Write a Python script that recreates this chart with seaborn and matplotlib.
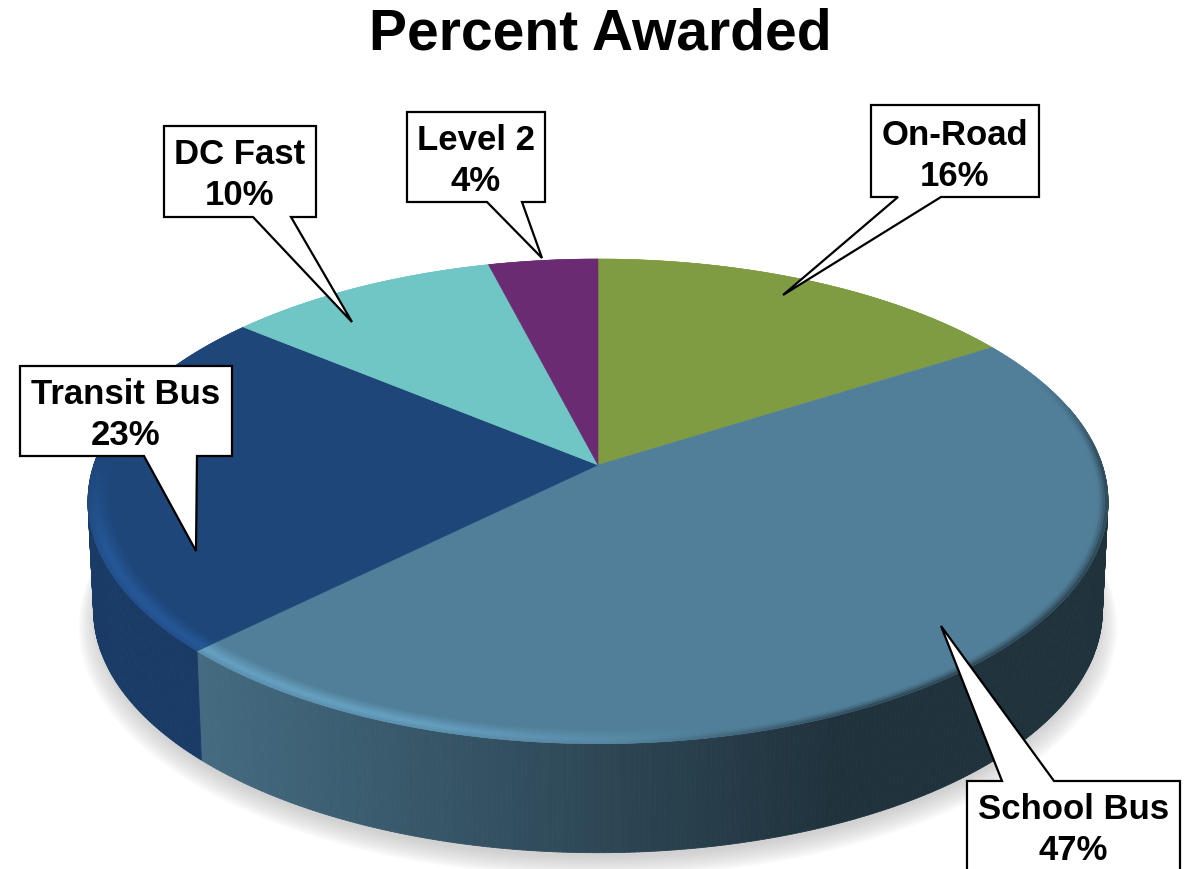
import numpy as np
import seaborn as sns
import matplotlib
matplotlib.use("Agg")
import matplotlib.pyplot as plt
from matplotlib.collections import PolyCollection

sns.set_theme(style="white")
plt.rcParams["font.family"] = ["Liberation Sans", "DejaVu Sans"]

# data, clockwise from 12 o'clock
categories = ["On-Road", "School Bus", "Transit Bus", "DC Fast", "Level 2"]
percent = [16, 46.6, 23.4, 10, 4]
percent_labels = ["16%", "47%", "23%", "10%", "4%"]
slice_colors = ["#7F9C42", "#517F99", "#1E4679", "#70C5C5", "#6B2B72"]

# callouts: box (left, top, right, bottom), tail base x left/right, tail tip
boxes = {
    "On-Road": (871, 105, 1039, 197, 898, 941, 783, 295),
    "School Bus": (967, 781, 1180, 900, 1002, 1054, 941, 626),
    "Transit Bus": (20, 366, 232, 456, 144, 197, 196, 551),
    "DC Fast": (164, 126, 316, 217, 253, 291, 352, 322),
    "Level 2": (407, 112, 545, 202, 487, 522, 542, 258),
}
text_y = {"On-Road": 156, "School Bus": 830, "Transit Bus": 415, "DC Fast": 175, "Level 2": 161}

# fake perspective of the disc, in pixels
CX, CY = 598, 465
K = 0.15
A = 206 * (1 + K)
R = 510 * np.sqrt(1 - K ** 2)
DEPTH = 109


def project(frac, r=1.0, drop=0.0):
    ang = 2 * np.pi * np.asarray(frac)
    u, v = r * np.sin(ang), r * np.cos(ang)
    w = 1 + K * v
    shrink = 1 - 0.011 * drop / DEPTH
    return CX + shrink * R * u / w, CY - A * v / w + drop


def side_shade(x):
    return np.interp(x, [205, 830], [0.84, 0.40])


def rim_factor(frac, r):
    # bevel on the front edge: light on the left, dark on the right
    x, _ = project(frac)
    v = np.cos(2 * np.pi * frac)
    light = np.clip((720 - x) / 300, 0, 1) * np.clip((0.05 - v) / 0.4, 0, 1)
    dark = np.clip((x - 620) / 250, 0, 1) * np.clip((0.4 - v) / 0.4, 0, 1)
    t = np.clip((r - 0.955) / 0.03, 0, 1)
    edge = np.clip((r - 0.985) / 0.015, 0, 1)
    return 1 + light * 0.28 * t * (1 - 0.5 * edge) - dark * 0.5 * np.clip((r - 0.98) / 0.02, 0, 1) ** 1.5


fig = plt.figure(figsize=(11.95, 8.69), dpi=100)
ax = fig.add_axes([0, 0, 1, 1])
ax.set_xlim(0, 1195)
ax.set_ylim(869, 0)
ax.axis("off")

palette = sns.color_palette(slice_colors)
edges = np.concatenate([[0], np.cumsum(percent)]) / np.sum(percent)

# soft shadow under the disc
ring = np.linspace(0, 1, 361)
for i in range(14):
    sx, sy = project(ring, r=1.03 - i * 0.003, drop=DEPTH + 6 + (14 - i) * 0.6)
    ax.fill(sx, sy, color="#B0B0B0", alpha=0.05, lw=0, zorder=1)

# side wall
polys, cols = [], []
for (f0, f1), col in zip(zip(edges[:-1], edges[1:]), palette):
    fr = np.linspace(f0, f1, int((f1 - f0) * 720) + 2)
    x0, y0 = project(fr)
    x1, y1 = project(fr, drop=DEPTH)
    for j in range(len(fr) - 1):
        if np.cos(2 * np.pi * fr[j]) > 0.25:
            continue
        polys.append([(x0[j], y0[j]), (x0[j + 1], y0[j + 1]), (x1[j + 1], y1[j + 1]), (x1[j], y1[j])])
        cols.append(np.array(col) * side_shade(x0[j]))
ax.add_collection(PolyCollection(polys, facecolors=cols, edgecolors=cols, linewidths=0.6, zorder=2))

# top of the slices
for (f0, f1), col in zip(zip(edges[:-1], edges[1:]), palette):
    fr = np.linspace(f0, f1, 200)
    x, y = project(fr)
    ax.fill(np.r_[CX, x], np.r_[CY, y], color=col, lw=0.4, zorder=3)

# bevel band
radii = np.linspace(0.955, 1.0, 10)
polys, cols = [], []
for (f0, f1), col in zip(zip(edges[:-1], edges[1:]), palette):
    fr = np.linspace(f0, f1, int((f1 - f0) * 720) + 2)
    for r0, r1 in zip(radii[:-1], radii[1:]):
        xa, ya = project(fr, r=r0)
        xb, yb = project(fr, r=r1)
        for j in range(len(fr) - 1):
            mid = 0.5 * (fr[j] + fr[j + 1])
            c = np.clip(np.array(col) * rim_factor(mid, 0.5 * (r0 + r1)), 0, 1)
            polys.append([(xa[j], ya[j]), (xa[j + 1], ya[j + 1]), (xb[j + 1], yb[j + 1]), (xb[j], yb[j])])
            cols.append(c)
ax.add_collection(PolyCollection(polys, facecolors=cols, edgecolors=cols, linewidths=0.3, zorder=4))

# callouts
for name, lab in zip(categories, percent_labels):
    l, t, r, b, b0, b1, tx, ty = boxes[name]
    if ty > b:
        pts = [(l, t), (r, t), (r, b), (b1, b), (tx, ty), (b0, b), (l, b)]
    else:
        pts = [(l, t), (b0, t), (tx, ty), (b1, t), (r, t), (r, b), (l, b)]
    ax.fill(*zip(*pts), facecolor="white", edgecolor="black", lw=1.6, joinstyle="miter", zorder=6)
    ax.text((l + r) / 2, text_y[name], f"{name}\n{lab}", ha="center", va="center",
            fontsize=25, fontweight="bold", color="black", linespacing=1.27, zorder=7)

ax.text(600, 34, "Percent Awarded", ha="center", va="center", fontsize=41, fontweight="bold", color="black", zorder=7)

fig.savefig("out.png", dpi=100)
